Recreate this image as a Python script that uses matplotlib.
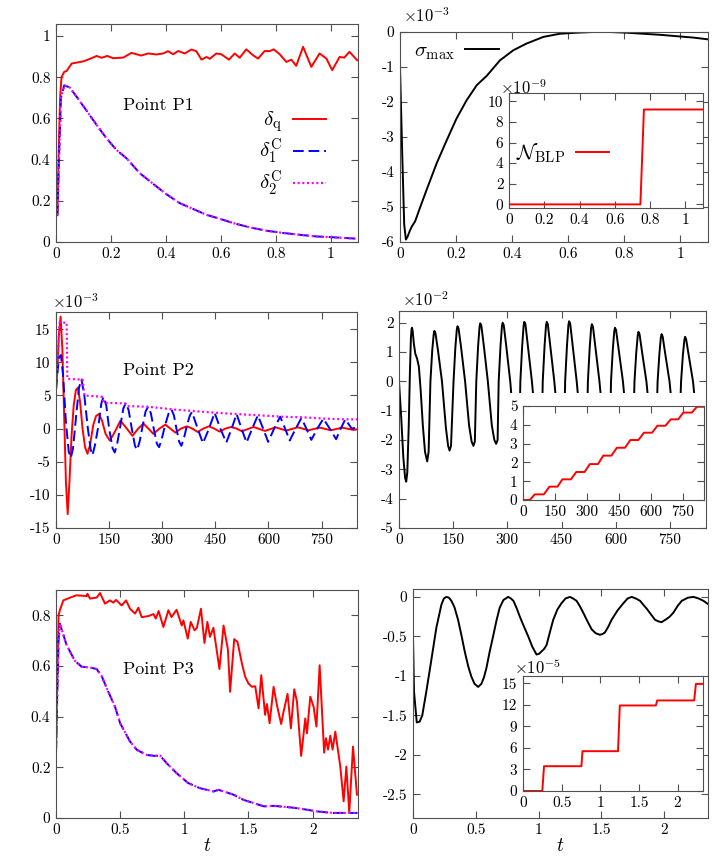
import matplotlib
matplotlib.use("Agg")
import matplotlib.pyplot as plt
from matplotlib.ticker import FuncFormatter
from matplotlib.patches import Rectangle

plt.rcParams['font.family'] = 'cmr10'
plt.rcParams['mathtext.fontset'] = 'cm'
plt.rcParams['axes.formatter.use_mathtext'] = True
plt.rcParams['axes.unicode_minus'] = False

# ---------------- data ----------------
# Point P1, t in [0, 1.1]
p1_q = [(0.005, 0.13), (0.01, 0.45), (0.015, 0.70), (0.02, 0.80), (0.03, 0.826), (0.039, 0.83),
        (0.057, 0.866), (0.10, 0.877), (0.124, 0.889), (0.148, 0.903), (0.166, 0.894), (0.187, 0.903),
        (0.208, 0.892), (0.245, 0.895), (0.275, 0.918), (0.31, 0.905), (0.336, 0.915), (0.366, 0.91),
        (0.39, 0.915), (0.408, 0.926), (0.427, 0.911), (0.445, 0.927), (0.469, 0.915), (0.493, 0.934),
        (0.511, 0.926), (0.53, 0.885), (0.548, 0.898), (0.56, 0.889), (0.584, 0.915), (0.602, 0.911),
        (0.63, 0.885), (0.651, 0.915), (0.669, 0.894), (0.693, 0.935), (0.718, 0.906), (0.736, 0.89),
        (0.76, 0.927), (0.778, 0.926), (0.793, 0.935), (0.815, 0.911), (0.839, 0.874), (0.857, 0.885),
        (0.875, 0.855), (0.9, 0.947), (0.93, 0.85), (0.96, 0.915), (0.985, 0.89), (1.006, 0.834),
        (1.033, 0.898), (1.05, 0.895), (1.069, 0.923), (1.097, 0.882)]
p1_c1 = [(0.005, 0.13), (0.012, 0.45), (0.018, 0.70), (0.03, 0.76), (0.05, 0.75), (0.075, 0.705),
         (0.11, 0.64), (0.148, 0.568), (0.184, 0.503), (0.22, 0.447), (0.257, 0.406), (0.305, 0.334),
         (0.354, 0.282), (0.402, 0.232), (0.45, 0.189), (0.5, 0.16), (0.548, 0.132), (0.596, 0.113),
         (0.645, 0.092), (0.705, 0.071), (0.766, 0.055), (0.827, 0.044), (0.887, 0.035), (0.948, 0.027),
         (1.008, 0.023), (1.097, 0.016)]
p1_c2 = list(p1_c1)  # coincides with delta_1^C at this scale
# sigma_max at P1 (x 1e-3)
p1_sig = [(0.0, -1.0), (0.008, -3.5), (0.015, -5.5), (0.021, -5.93), (0.027, -5.85), (0.034, -5.7),
          (0.042, -5.56), (0.054, -5.41), (0.071, -5.03), (0.095, -4.51), (0.131, -3.75), (0.167, -3.09),
          (0.202, -2.47), (0.238, -1.95), (0.274, -1.52), (0.31, -1.25), (0.357, -0.81), (0.405, -0.52),
          (0.452, -0.33), (0.512, -0.14), (0.571, -0.05), (0.631, -0.02), (0.69, 0.0), (0.75, 0.0),
          (0.81, -0.02), (0.869, -0.05), (0.929, -0.08), (0.988, -0.12), (1.048, -0.16), (1.1, -0.21)]
# N_BLP at P1 (x 1e-9)
p1_blp = [(0.0, 0.0), (0.745, 0.0), (0.765, 9.2), (1.1, 9.2)]

# Point P2, t in [0, 850] (x 1e-3)
p2_q = [(0, 5.9), (4, 9), (8, 14), (13, 16.9), (18, 12), (23, 2), (28, -8), (33, -12.9), (38, -8),
        (44, -1), (50, 3.5), (56, 5.8), (62, 6.2), (68, 4), (75, 0), (82, -2.8), (89, -3.8), (96, -2.5),
        (105, 0.5), (113, 1.9), (121, 2.2), (130, 1.2), (140, -0.8), (152, -1.8), (165, -0.6), (182, 1.2),
        (200, 0), (216, -1.1), (232, 0), (247, 0.75), (261, 0), (275, -0.8), (292, 0), (309, 0.6),
        (323, 0), (337, -0.6), (353, 0), (370, 0.35), (385, 0), (400, -0.5), (416, 0), (432, 0.35),
        (447, 0), (462, -0.45), (478, 0), (495, 0.25), (510, 0), (525, -0.4), (558, 0.25), (590, -0.35),
        (620, 0.2), (650, -0.3), (683, 0.2), (713, -0.25), (745, 0.15), (776, -0.25), (808, 0.15),
        (840, -0.2), (850, -0.1)]
p2_c1 = [(0, 5.9), (5, 9), (9, 10.8), (14, 11.1), (20, 8), (28, 1), (36, -3.5), (42, -4.4), (48, -3),
         (57, 2), (65, 6.2), (72, 7.4), (80, 5), (90, 0), (98, -3.2), (103, -4.0), (110, -2.5), (120, 0.5),
         (128, 3.8), (134, 4.8), (142, 3.5), (150, 0), (160, -3), (166, -3.6), (173, -2.2), (182, 0.5),
         (190, 3), (197, 3.9), (205, 2.8), (214, 0), (223, -2.6), (229, -3.2), (236, -2), (245, 0.5),
         (253, 2.6), (260, 3.3), (268, 2.3), (276, 0), (285, -2.3), (291, -2.8), (298, -1.7), (308, 0.5),
         (318, 2.3), (326, 2.9), (333, 2), (340, 0), (348, -2), (354, -2.6), (361, -1.5), (370, 0.5),
         (378, 2), (384, 2.5), (400, 0), (415, -2.2), (432, 0), (448, 2.4), (464, 0), (481, -2.1),
         (496, 0), (510, 2.2), (524, 0), (538, -2.1), (554, 0), (570, 2.0), (585, 0), (599, -2.0),
         (616, 0), (633, 1.8), (647, 0), (660, -1.8), (677, 0), (693, 1.6), (707, 0), (721, -1.7),
         (738, 0), (755, 1.5), (773, 0), (791, -1.6), (804, 0), (817, 1.4), (835, 0), (850, 0.2)]
p2_c2 = [(0, 6), (5, 11), (10, 16), (30, 16), (32, 7.5), (75, 7.4), (80, 5.0), (130, 4.8), (136, 3.9),
         (195, 3.8), (200, 3.4), (260, 3.3), (330, 2.9), (400, 2.6), (450, 2.4), (510, 2.2), (575, 2.0),
         (635, 1.8), (700, 1.7), (760, 1.5), (820, 1.4), (850, 1.4)]
# sigma_max at P2 (x 1e-2)
p2_sig = [(0, 0), (6, -1.2), (12, -2.6), (17, -3.3), (20, -3.42), (23, -3.1), (27, -1.5), (30, 0.2),
          (33, 1.5), (35, 1.8), (36, 1.83), (38, 1.7), (41, 1.3), (45, 0.95), (50, 0.78), (55, 0.5),
          (60, -0.3), (66, -1.5), (72, -2.4), (78, -2.73), (82, -2.4),
          (87, 0), (92, 1.05), (96, 1.6), (98, 1.72), (101, 1.64), (108, 1.05), (119, 0), (130, -1.6),
          (136, -2.2), (140, -2.36), (144, -2.2),
          (151, 0), (156, 1.15), (160, 1.76), (162, 1.88), (165, 1.8), (172, 1.15), (183, 0), (194, -1.5),
          (201, -2.05), (206, -2.2), (210, -2.05),
          (214, 0), (219, 1.2), (223, 1.86), (225, 1.98), (228, 1.9), (235, 1.2), (246, 0), (257, -1.5),
          (264, -2.0), (269, -2.13), (273, -2.0),
          (276, 0), (281, 1.2), (285, 1.88), (287, 2.0), (290, 1.92), (297, 1.2), (308, 0), (318, -1.5),
          (325, -2.0), (329, -2.1), (333, -1.95),
          (336, 0), (341, 1.2), (345, 1.9), (347, 2.03), (350, 1.95), (357, 1.2), (368, 0), (379, -1.5),
          (386, -2.0), (391, -2.1), (395, -1.95),
          (398, 0), (403, 1.2), (407, 1.9), (409, 2.03), (412, 1.95), (419, 1.2), (430, 0), (441, -1.5),
          (448, -2.0), (453, -2.1), (457, -1.95),
          (460, 0), (465, 1.2), (469, 1.92), (471, 2.05), (474, 1.97), (481, 1.2), (492, 0), (503, -1.5),
          (511, -2.0), (516, -2.1), (520, -1.95),
          (523, 0), (528, 1.15), (532, 1.83), (534, 1.95), (537, 1.87), (544, 1.15), (555, 0), (566, -1.45),
          (574, -1.9), (580, -2.0), (584, -1.85),
          (587, 0), (592, 1.1), (596, 1.71), (598, 1.83), (601, 1.75), (608, 1.1), (620, 0), (631, -1.45),
          (639, -1.9), (644, -2.0), (648, -1.85),
          (652, 0), (657, 1.0), (661, 1.57), (663, 1.69), (666, 1.61), (673, 1.0), (685, 0), (696, -1.4),
          (703, -1.8), (708, -1.9), (712, -1.75),
          (716, 0), (721, 0.95), (725, 1.5), (727, 1.61), (730, 1.53), (737, 0.95), (749, 0), (760, -1.4),
          (767, -1.8), (772, -1.9), (776, -1.75),
          (781, 0), (786, 0.9), (790, 1.4), (792, 1.52), (795, 1.44), (802, 0.9), (814, 0), (825, -1.35),
          (832, -1.7), (836, -1.8), (840, -1.65), (850, -1.2)]
p2_blp = [(0, 0), (32, 0), (55, 0.3), (98, 0.3), (124, 0.71), (162, 0.71), (185, 1.1), (225, 1.1),
          (250, 1.49), (289, 1.49), (314, 1.91), (352, 1.91), (377, 2.36), (415, 2.36), (441, 2.78),
          (479, 2.78), (504, 3.19), (542, 3.19), (568, 3.58), (606, 3.58), (631, 3.95), (669, 3.95),
          (694, 4.29), (729, 4.29), (753, 4.65), (793, 4.65), (817, 4.96), (850, 4.96)]

# Point P3, t in [0, 2.35]
p3_q = [(0.0, 0.258), (0.01, 0.55), (0.02, 0.8), (0.03, 0.82), (0.057, 0.859), (0.11, 0.87), (0.16, 0.879),
        (0.24, 0.876), (0.245, 0.885), (0.265, 0.866), (0.317, 0.87), (0.343, 0.888), (0.382, 0.846),
        (0.42, 0.859), (0.447, 0.85), (0.468, 0.861), (0.512, 0.839), (0.546, 0.859), (0.577, 0.826),
        (0.616, 0.807), (0.642, 0.83), (0.668, 0.793), (0.72, 0.797), (0.76, 0.805), (0.778, 0.787),
        (0.8, 0.817), (0.837, 0.754), (0.876, 0.82), (0.9, 0.793), (0.94, 0.822), (0.98, 0.76),
        (0.993, 0.78), (1.027, 0.708), (1.05, 0.774), (1.08, 0.741), (1.098, 0.75), (1.13, 0.826),
        (1.157, 0.691), (1.18, 0.774), (1.2, 0.715), (1.227, 0.751), (1.274, 0.588), (1.306, 0.76),
        (1.34, 0.665), (1.357, 0.498), (1.389, 0.706), (1.415, 0.695), (1.449, 0.61), (1.475, 0.557),
        (1.5, 0.531), (1.527, 0.518), (1.553, 0.52), (1.579, 0.433), (1.6, 0.564), (1.63, 0.407),
        (1.644, 0.45), (1.665, 0.374), (1.696, 0.518), (1.722, 0.446), (1.755, 0.371), (1.774, 0.42),
        (1.805, 0.49), (1.831, 0.354), (1.857, 0.508), (1.878, 0.46), (1.911, 0.245), (1.943, 0.393),
        (1.956, 0.334), (1.982, 0.479), (2.008, 0.439), (2.03, 0.361), (2.055, 0.603), (2.09, 0.258),
        (2.104, 0.315), (2.12, 0.27), (2.138, 0.325), (2.156, 0.27), (2.177, 0.341), (2.216, 0.203),
        (2.242, 0.066), (2.263, 0.203), (2.286, 0.022), (2.315, 0.282), (2.346, 0.092)]
p3_c1 = [(0.0, 0.26), (0.01, 0.5), (0.02, 0.7), (0.03, 0.767), (0.083, 0.682), (0.148, 0.62), (0.2, 0.597),
         (0.265, 0.594), (0.317, 0.588), (0.356, 0.56), (0.408, 0.498), (0.46, 0.439), (0.5, 0.374),
         (0.577, 0.302), (0.63, 0.269), (0.707, 0.249), (0.772, 0.245), (0.81, 0.247), (0.863, 0.216),
         (0.94, 0.177), (1.03, 0.138), (1.12, 0.118), (1.227, 0.105), (1.267, 0.111), (1.33, 0.101),
         (1.384, 0.092), (1.46, 0.072), (1.54, 0.059), (1.62, 0.046), (1.696, 0.048), (1.826, 0.042),
         (1.904, 0.037), (2.034, 0.026), (2.16, 0.02), (2.32, 0.02), (2.35, 0.02)]
p3_c2 = list(p3_c1)
p3_sig = [(0.0, -0.5), (0.008, -1.2), (0.03, -1.59), (0.053, -1.58), (0.074, -1.5), (0.106, -1.2),
          (0.146, -0.8), (0.186, -0.39), (0.226, -0.1), (0.246, -0.02), (0.266, 0.0), (0.286, -0.01),
          (0.306, -0.05), (0.33, -0.13), (0.359, -0.29), (0.385, -0.48), (0.412, -0.69), (0.44, -0.88),
          (0.465, -1.01), (0.49, -1.1), (0.519, -1.14), (0.545, -1.1), (0.565, -1.02), (0.585, -0.9),
          (0.61, -0.7), (0.638, -0.5), (0.665, -0.3), (0.69, -0.14), (0.72, -0.04), (0.758, 0.0),
          (0.78, -0.02), (0.8, -0.05), (0.825, -0.14), (0.851, -0.25), (0.885, -0.38), (0.918, -0.5),
          (0.95, -0.63), (0.984, -0.73), (1.005, -0.72), (1.024, -0.69), (1.044, -0.66), (1.064, -0.61),
          (1.09, -0.45), (1.117, -0.29), (1.15, -0.16), (1.183, -0.08), (1.215, -0.02), (1.25, 0.0),
          (1.275, -0.02), (1.303, -0.05), (1.33, -0.12), (1.356, -0.2), (1.39, -0.31), (1.423, -0.41),
          (1.455, -0.46), (1.489, -0.48), (1.51, -0.47), (1.529, -0.45), (1.555, -0.38), (1.582, -0.29),
          (1.63, -0.17), (1.676, -0.08), (1.71, -0.02), (1.742, 0.0), (1.775, -0.02), (1.809, -0.05),
          (1.835, -0.1), (1.862, -0.15), (1.895, -0.22), (1.928, -0.29), (1.955, -0.31), (1.98, -0.32),
          (2.0, -0.3), (2.02, -0.28), (2.045, -0.25), (2.074, -0.2), (2.11, -0.11), (2.141, -0.05),
          (2.19, -0.01), (2.234, 0.0), (2.275, -0.02), (2.314, -0.05), (2.35, -0.09)]
# N_BLP at P3 (x 1e-5)
p3_blp = [(0.0, 0.0), (0.25, 0.0), (0.272, 3.45), (0.756, 3.45), (0.77, 5.54), (1.23, 5.54),
          (1.253, 11.9), (1.72, 11.9), (1.737, 12.6), (2.216, 12.6), (2.238, 14.9), (2.33, 14.9)]

# ---------------- layout helpers ----------------
W, H = 713, 861
fig = plt.figure(figsize=(W / 100, H / 100), dpi=100)

def box(l, t, r, b):
    return [l / W, 1 - b / H, (r - l) / W, (b - t) / H]

fmt = FuncFormatter(lambda v, p: f'{round(v, 6) + 0:g}')
FRAME = '#505050'

def style(ax, xt, yt, xlim, ylim):
    ax.set_xlim(*xlim)
    ax.set_ylim(*ylim)
    ax.set_xticks(xt)
    ax.set_yticks(yt)
    ax.xaxis.set_major_formatter(fmt)
    ax.yaxis.set_major_formatter(fmt)
    ax.tick_params(direction='in', top=True, right=True, length=5, width=0.8,
                   color=FRAME, labelsize=11, pad=4)
    for s in ax.spines.values():
        s.set_color(FRAME)
        s.set_linewidth(0.8)

def xy(pairs):
    return [p[0] for p in pairs], [p[1] for p in pairs]

def px(x, y):
    return x / W, 1 - y / H

RED, BLUE, MAG = '#ff0000', '#0000ff', '#ff00ff'
LW = 1.4
LEG = dict(bbox_transform=fig.transFigure, markerfirst=False, frameon=False, fontsize=15,
           handlelength=1.6, handletextpad=0.5, borderpad=0, borderaxespad=0)

def delta_panel(ax, q, c1, c2):
    ax.plot(*xy(q), color=RED, lw=LW, label=r'$\delta_{\rm q}$')
    ax.plot(*xy(c1), color=BLUE, lw=LW, dashes=(5.5, 2.5), label=r'$\delta_1^{\rm C}$')
    ax.plot(*xy(c2), color=MAG, lw=1.6, dashes=(0.9, 1.2), label=r'$\delta_2^{\rm C}$')

# ---------------- Point P1 ----------------
ax1 = fig.add_axes(box(56, 24, 358, 242))
delta_panel(ax1, p1_q, p1_c1, p1_c2)
style(ax1, [0, 0.2, 0.4, 0.6, 0.8, 1], [0, 0.2, 0.4, 0.6, 0.8, 1], (0, 1.1), (0, 1.058))
fig.text(*px(123, 105), 'Point P1', fontsize=13, va='center')
ax1.legend(loc='center right', bbox_to_anchor=px(326, 154), labelspacing=0.12, **LEG)

ax2 = fig.add_axes(box(400, 32, 708, 242))
ax2.plot(*xy(p1_sig), color='black', lw=LW, label=r'$\sigma_{\max}$')
style(ax2, [0, 0.2, 0.4, 0.6, 0.8, 1], [-6, -5, -4, -3, -2, -1, 0], (0, 1.1), (-6, 0))
fig.text(*px(403, 16), r'$\times10^{-3}$', fontsize=12, va='center')
ax2.legend(loc='center left', bbox_to_anchor=px(414, 52), **LEG)

ax2i = fig.add_axes(box(509, 93, 703, 208))
ax2i.plot(*xy(p1_blp), color=RED, lw=LW, label=r'$\mathcal{N}_{\rm BLP}$')
style(ax2i, [0, 0.2, 0.4, 0.6, 0.8, 1], [0, 2, 4, 6, 8, 10], (0, 1.1), (-0.35, 10.8))
fig.text(*px(500, 88), r'$\times10^{-9}$', fontsize=12, va='center')
ax2i.legend(loc='center left', bbox_to_anchor=px(516, 153), **LEG)

# ---------------- Point P2 ----------------
ax3 = fig.add_axes(box(56, 312, 357, 528))
delta_panel(ax3, p2_q, p2_c1, p2_c2)
style(ax3, [0, 150, 300, 450, 600, 750], [-15, -10, -5, 0, 5, 10, 15], (0, 850), (-15, 17.6))
fig.text(*px(52, 302), r'$\times10^{-3}$', fontsize=12, va='center')
fig.text(*px(123, 370), 'Point P2', fontsize=13, va='center')

ax4 = fig.add_axes(box(399, 311, 706, 528))
ax4.plot(*xy(p2_sig), color='black', lw=LW)
style(ax4, [0, 150, 300, 450, 600, 750], [-5, -4, -3, -2, -1, 0, 1, 2], (0, 850), (-5, 2.4))
fig.text(*px(402, 300), r'$\times10^{-2}$', fontsize=12, va='center')
# inset background hides the main curve behind it
l, b = px(509, 522)
r, t = px(705.5, 393)
ax4.add_patch(Rectangle((l, b), r - l, t - b, transform=fig.transFigure, facecolor='white',
                        edgecolor='none', zorder=2.2, clip_on=False))

ax4i = fig.add_axes(box(523, 406, 704, 500))
ax4i.plot(*xy(p2_blp), color=RED, lw=LW)
style(ax4i, [0, 150, 300, 450, 600, 750], [0, 1, 2, 3, 4, 5], (0, 850), (0, 5))

# ---------------- Point P3 ----------------
ax5 = fig.add_axes(box(56, 590, 358, 818))
delta_panel(ax5, p3_q, p3_c1, p3_c2)
style(ax5, [0, 0.5, 1, 1.5, 2], [0, 0.2, 0.4, 0.6, 0.8], (0, 2.354), (0, 0.9))
fig.text(*px(123, 669), 'Point P3', fontsize=13, va='center')
ax5.set_xlabel('$t$', fontsize=14, labelpad=0)

ax6 = fig.add_axes(box(413, 589, 708, 818))
ax6.plot(*xy(p3_sig), color='black', lw=LW)
style(ax6, [0, 0.5, 1, 1.5, 2], [-2.5, -2, -1.5, -1, -0.5, 0], (0, 2.35), (-2.8, 0.1))
ax6.set_xlabel('$t$', fontsize=14, labelpad=0)

ax6i = fig.add_axes(box(523, 676, 703, 791))
ax6i.plot(*xy(p3_blp), color=RED, lw=LW)
style(ax6i, [0, 0.5, 1, 1.5, 2], [0, 3, 6, 9, 12, 15], (0, 2.33), (0, 16))
fig.text(*px(514, 667), r'$\times10^{-5}$', fontsize=12, va='center')

fig.savefig('out.png', dpi=100)
